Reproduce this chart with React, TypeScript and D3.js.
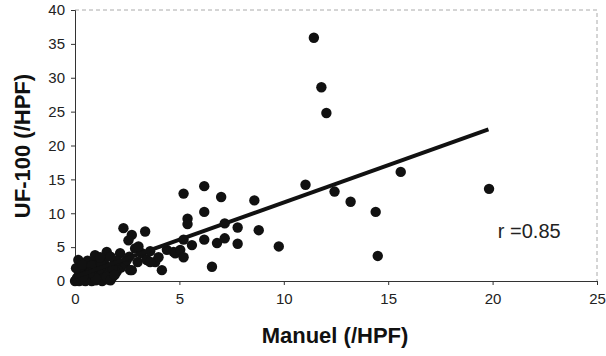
import { useEffect, useRef } from "react";
import * as d3 from "d3";

// Manuel (x) vs UF-100 (y) counts, /HPF
const points: [number, number][] = [
  // dense cluster near origin
  [0, 0], [0.1, 0.2], [0.2, 0], [0.1, 0.5], [0.3, 0.3], [0.2, 0.8], [0.4, 0.1], [0.5, 0.5],
  [0.3, 1.0], [0.6, 0.2], [0.6, 0.9], [0.7, 0.4], [0.8, 0], [0.8, 1.2], [0.9, 0.6], [1.0, 0.1],
  [1.0, 1.5], [1.1, 0.8], [1.2, 0.3], [1.2, 1.9], [1.3, 1.2], [1.4, 0.5], [1.5, 2.2], [1.6, 1.0],
  [1.7, 1.6], [1.8, 0.6], [0.4, 1.6], [0.5, 2.2], [0.2, 1.3], [0.7, 1.9], [0.9, 2.6], [1.1, 2.9],
  [0.16, 3.1], [0.6, 3.0], [1.4, 3.2], [0.96, 3.8], [1.52, 4.3], [2.16, 4.1], [1.9, 2.6],
  [2.0, 1.4], [2.2, 2.0], [2.4, 2.6], [1.92, 1.4], [1.3, 0], [1.6, 0.2], [0.05, 1.9],
  [0.5, 0], [1.0, 0.4], [1.5, 0.6], [1.7, 0.1], [0.35, 2.4], [0.8, 2.3], [1.25, 2.5],
  [1.8, 1.9], [2.0, 3.0], [1.7, 3.6], [1.2, 3.5], [0.7, 1.2], [0.4, 0.7], [1.9, 0.9],
  // along the fit, x 2..5
  [2.32, 7.8], [2.72, 6.8], [3.36, 7.3], [2.56, 6.0], [2.88, 4.8], [3.2, 4.1], [2.48, 3.1],
  [2.72, 1.6], [3.04, 5.1], [2.6, 3.6], [3.0, 2.8], [3.44, 3.1], [3.84, 2.8], [3.6, 4.4],
  [4.16, 1.6], [4.0, 3.5], [4.4, 4.6], [4.72, 4.3], [4.8, 4.1], [2.64, 1.6], [3.6, 2.8],
  // x 5..10
  [5.04, 4.6], [5.2, 3.5], [5.2, 6.1], [5.6, 5.3], [5.39, 9.2], [5.39, 8.4], [5.2, 12.9],
  [6.19, 14.0], [7.0, 12.4], [6.19, 10.2], [6.19, 6.1], [6.8, 5.6], [7.17, 6.3], [7.17, 8.5],
  [7.79, 7.9], [7.79, 5.5], [6.56, 2.1], [8.59, 11.9], [8.8, 7.5], [9.76, 5.1],
  // x > 10
  [11.04, 14.2], [11.44, 35.9], [11.8, 28.6], [12.04, 24.8], [12.43, 13.2], [13.2, 11.7],
  [14.4, 10.2], [14.5, 3.7], [15.6, 16.1], [19.83, 13.6],
];

const xTicks = [0, 5, 10, 15, 20, 25];
const yTicks = [0, 5, 10, 15, 20, 25, 30, 35, 40];

// least squares line as drawn
const fitSlope = 1.1;
const fitIntercept = 0.6;
const fitRange: [number, number] = [0, 19.8];

const FONT = "Arial, 'Liberation Sans', sans-serif";

export default function App() {
  const svgRef = useRef<SVGSVGElement>(null);

  useEffect(() => {
    document.body.style.margin = "0";
    const svg = d3.select(svgRef.current);
    svg.selectAll("*").remove();

    const left = 75, right = 597, top = 10, bottom = 281;
    const x = d3.scaleLinear().domain([0, 25]).range([left, right]);
    const y = d3.scaleLinear().domain([0, 40]).range([bottom, top]);

    // plot area border (top + right, faint dashed)
    svg.append("path")
      .attr("d", `M${left},${top}H${right}V${bottom}`)
      .attr("fill", "none").attr("stroke", "#aaa").attr("stroke-width", 1)
      .attr("stroke-dasharray", "4,3");

    // axes
    const gx = svg.append("g").attr("transform", `translate(0,${bottom})`)
      .call(d3.axisBottom(x).tickValues(xTicks).tickSize(4).tickPadding(8));
    const gy = svg.append("g").attr("transform", `translate(${left},0)`)
      .call(d3.axisLeft(y).tickValues(yTicks).tickSize(4).tickPadding(6));
    [gx, gy].forEach(ax => {
      ax.select(".domain").attr("stroke", "#333");
      ax.selectAll(".tick line").attr("stroke", "#333");
      ax.selectAll(".tick text").attr("fill", "#222").attr("font-size", 15).attr("font-family", FONT);
    });

    // points
    svg.append("g").selectAll("circle").data(points).join("circle")
      .attr("cx", d => x(d[0])).attr("cy", d => y(d[1])).attr("r", 5.2)
      .attr("fill", "#111");

    // regression line
    const line = d3.line<number>().x(v => x(v)).y(v => y(fitSlope * v + fitIntercept));
    svg.append("path").datum(fitRange).attr("d", line)
      .attr("fill", "none").attr("stroke", "#111").attr("stroke-width", 4);

    // r label
    svg.append("text").attr("x", x(20.25)).attr("y", y(6.3))
      .attr("font-size", 20).attr("font-family", FONT).attr("fill", "#222")
      .text("r =0.85");

    // axis titles
    svg.append("text").attr("x", 335).attr("y", 343).attr("text-anchor", "middle")
      .attr("font-size", 22).attr("font-weight", "bold").attr("font-family", FONT).attr("fill", "#111")
      .text("Manuel (/HPF)");
    svg.append("text").attr("transform", "translate(30,146) rotate(-90)").attr("text-anchor", "middle")
      .attr("font-size", 22).attr("font-weight", "bold").attr("font-family", FONT).attr("fill", "#111")
      .text("UF-100 (/HPF)");
  }, []);

  return <svg ref={svgRef} width={606} height={356} style={{ display: "block", background: "#fff" }} />;
}
